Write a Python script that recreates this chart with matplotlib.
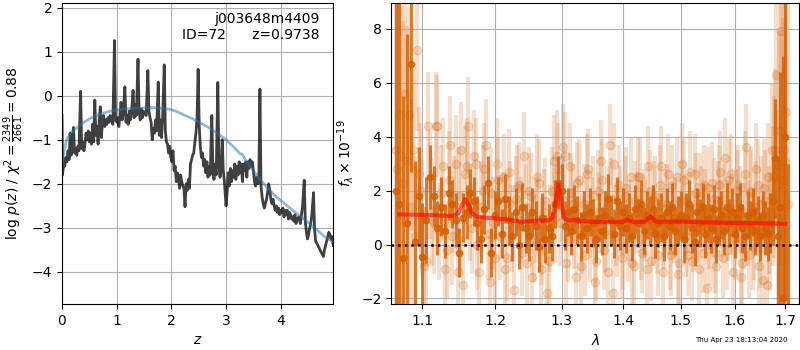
import matplotlib

matplotlib.use("Agg")
import matplotlib.pyplot as plt
from matplotlib.ticker import NullFormatter, ScalarFormatter

GRISM_COLOR = (0.8353, 0.3686, 0.0)

# redshift probability, log10 p(z)
zgrid = [
    0.00, 0.01, 0.03, 0.05, 0.07, 0.09, 0.11, 0.13, 0.15, 0.17, 0.19, 0.21, 0.23, 0.25,
    0.27, 0.29, 0.31, 0.34, 0.36, 0.38, 0.40, 0.42, 0.44, 0.46, 0.48, 0.50, 0.52, 0.54,
    0.56, 0.58, 0.60, 0.62, 0.64, 0.66, 0.68, 0.70, 0.72, 0.74, 0.76, 0.78, 0.80, 0.82,
    0.84, 0.86, 0.88, 0.90, 0.93, 0.96, 0.98, 1.00, 1.02, 1.04, 1.06, 1.08, 1.10, 1.12,
    1.15, 1.17, 1.19, 1.21, 1.23, 1.25, 1.27, 1.30, 1.32, 1.34, 1.36, 1.39, 1.41, 1.43,
    1.45, 1.47, 1.49, 1.51, 1.54, 1.57, 1.59, 1.61, 1.63, 1.65, 1.67, 1.69, 1.71, 1.73,
    1.76, 1.78, 1.80, 1.82, 1.84, 1.87, 1.89, 1.91, 1.93, 1.95, 1.97, 1.99, 2.01, 2.03,
    2.05, 2.07, 2.09, 2.11, 2.13, 2.15, 2.17, 2.19, 2.21, 2.23, 2.25, 2.27, 2.29, 2.31,
    2.33, 2.35, 2.37, 2.39, 2.41, 2.43, 2.45, 2.47, 2.49, 2.51, 2.53, 2.55, 2.57, 2.59,
    2.61, 2.63, 2.65, 2.67, 2.69, 2.71, 2.74, 2.76, 2.78, 2.80, 2.82, 2.85, 2.87, 2.89,
    2.91, 2.93, 2.95, 2.97, 3.00, 3.02, 3.04, 3.06, 3.08, 3.10, 3.12, 3.14, 3.16, 3.18,
    3.20, 3.22, 3.24, 3.26, 3.28, 3.30, 3.32, 3.34, 3.36, 3.38, 3.40, 3.42, 3.44, 3.46,
    3.48, 3.50, 3.52, 3.54, 3.56, 3.58, 3.60, 3.62, 3.64, 3.66, 3.68, 3.70, 3.72, 3.74,
    3.76, 3.78, 3.80, 3.82, 3.84, 3.86, 3.88, 3.90, 3.92, 3.94, 3.96, 3.98, 4.00, 4.02,
    4.04, 4.06, 4.08, 4.10, 4.12, 4.14, 4.16, 4.18, 4.20, 4.22, 4.24, 4.26, 4.28, 4.30,
    4.33, 4.36, 4.38, 4.40, 4.43, 4.45, 4.47, 4.49, 4.51, 4.53, 4.55, 4.57, 4.60, 4.62,
    4.64, 4.66, 4.68, 4.70, 4.72, 4.74, 4.76, 4.78, 4.80, 4.82, 4.84, 4.86, 4.88, 4.90,
    4.92, 4.94, 4.96,
]
logpz = [
    -0.45, -1.80, -1.55, -1.60, -1.40, -1.50, -1.25, -1.45, -0.85, -1.35, -1.10, -0.72, -1.30, -1.20,
    -1.35, -1.15, -1.25, 0.10, -1.20, -1.05, -1.25, -1.10, -0.85, -1.00, -0.80, -1.05, -0.85, -1.10,
    -0.65, -1.05, -0.10, -0.90, -0.70, -1.10, -0.55, -0.25, -0.95, -0.60, -0.45, -0.70, -0.55, -0.65,
    -0.50, -0.60, -0.45, -0.55, -0.65, 1.25, -0.55, -0.60, -0.50, -0.70, -0.45, -0.15, -0.55, -0.40,
    0.20, -0.60, -0.45, -0.65, -0.35, -0.55, -0.40, 0.12, -0.50, -0.20, -0.45, 0.83, -0.35, -0.55,
    -0.30, -0.50, -0.35, -0.40, -0.45, 0.57, -0.35, -0.50, -0.60, -1.00, -0.75, -0.85, -0.55, -0.80,
    0.31, -0.90, -0.55, -0.95, -0.50, 0.70, -0.80, -1.05, -1.10, -1.30, -1.15, -1.40, -1.50, -1.25,
    -1.70, -1.60, -1.95, -1.75, -1.85, -2.10, -1.80, -1.95, -2.05, -2.10, -2.52, -2.00, -2.15, -1.90,
    -2.10, -1.55, -1.45, -1.35, -1.30, -1.05, -0.85, -0.50, 0.60, -0.70, -1.15, -1.40, -1.30, -1.60,
    -1.45, -1.75, -1.50, -1.85, -1.60, -1.80, -0.45, -1.70, -1.90, -1.55, -1.80, 0.30, -1.60, -1.85,
    -1.65, -1.00, -1.70, -1.95, -2.50, -2.20, -1.75, -2.05, -1.65, -1.95, -1.70, -1.85, -1.55, -1.90,
    -1.60, -1.80, -1.50, -1.75, -1.55, -1.95, -1.55, -1.70, -1.50, -1.85, -1.50, -1.65, -1.45, -1.60,
    -1.50, -1.70, -1.95, -2.05, -1.85, -2.00, -1.95, 0.15, -2.05, -2.30, -2.45, -2.55, -2.45, -2.35,
    -2.20, -2.00, -2.15, -2.35, -2.45, -2.35, -2.50, -2.60, -2.50, -2.65, -2.55, -2.70, -2.60, -2.65,
    -2.55, -2.75, -2.60, -2.70, -2.60, -2.80, -2.65, -2.70, -2.80, -2.75, -2.85, -2.70, -2.90, -2.80,
    -2.75, -2.90, -2.70, -2.50, -1.92, -2.85, -3.10, -3.25, -3.15, -3.00, -2.90, -2.70, -2.20, -3.05,
    -3.30, -3.35, -3.40, -3.45, -3.50, -3.55, -3.60, -3.65, -3.50, -3.40, -3.30, -3.20, -3.10, -3.15,
    -3.25, -3.20, -3.40,
]

# smooth prior curve
prior_z = [
    0.00, 0.02, 0.05, 0.085, 0.15, 0.27, 0.40, 0.57, 0.72, 0.88, 1.05, 1.18, 1.40, 1.67,
    1.85, 1.98, 2.10, 2.22, 2.38, 2.53, 2.68, 2.83, 2.98, 3.13, 3.26, 3.30, 3.35, 3.45,
    3.62, 3.75, 3.87, 4.02, 4.17, 4.32, 4.48, 4.60, 4.72, 4.83, 4.93, 4.96,
]
prior_logp = [
    -1.62, -1.37, -1.18, -1.00, -0.85, -0.73, -0.60, -0.48, -0.41, -0.35, -0.32, -0.30, -0.28, -0.27,
    -0.29, -0.31, -0.36, -0.43, -0.52, -0.62, -0.72, -0.84, -0.98, -1.15, -1.32, -1.33, -1.45, -1.62,
    -1.90, -2.08, -2.24, -2.40, -2.55, -2.70, -2.85, -2.98, -3.11, -3.22, -3.30, -3.33,
]

# binned spectrum (microns, flux / 1e-19)
wave_bin = [
    1.065, 1.070, 1.075, 1.080, 1.085, 1.090, 1.095, 1.100, 1.105, 1.110, 1.115, 1.120, 1.125,
    1.130, 1.135, 1.140, 1.145, 1.150, 1.155, 1.160, 1.165, 1.170, 1.175, 1.180, 1.185, 1.190,
    1.195, 1.200, 1.205, 1.210, 1.215, 1.220, 1.225, 1.230, 1.235, 1.240, 1.245, 1.250, 1.255,
    1.260, 1.265, 1.270, 1.275, 1.280, 1.285, 1.290, 1.295, 1.300, 1.305, 1.310, 1.315, 1.320,
    1.325, 1.330, 1.335, 1.340, 1.345, 1.350, 1.355, 1.360, 1.365, 1.370, 1.375, 1.380, 1.385,
    1.390, 1.395, 1.400, 1.405, 1.410, 1.415, 1.420, 1.425, 1.430, 1.435, 1.440, 1.445, 1.450,
    1.455, 1.460, 1.465, 1.470, 1.475, 1.480, 1.485, 1.490, 1.495, 1.500, 1.505, 1.510, 1.515,
    1.520, 1.525, 1.530, 1.535, 1.540, 1.545, 1.550, 1.555, 1.560, 1.565, 1.570, 1.575, 1.580,
    1.585, 1.590, 1.595, 1.600, 1.605, 1.610, 1.615, 1.620, 1.625, 1.630, 1.635, 1.640, 1.645,
    1.650, 1.655, 1.660, 1.665, 1.670, 1.675, 1.680, 1.685, 1.690, 1.695, 1.700, 1.705,
]
flux_bin = [
    2.0, 1.5, -0.5, 0.8, 6.7, 0.1, 1.8, -0.45, 0.9, 2.5, 1.8, 0.6, 1.4,
    0.5, 1.9, 1.5, 0.9, -0.3, 1.0, 1.2, 1.9, 1.6, 0.8, 0.2, 1.3, 2.3,
    -0.3, 1.1, 1.6, 0.4, 1.7, 0.9, 0.3, 1.2, 0.0, 1.4, 0.6, 0.3, 1.2,
    0.7, -0.1, 1.0, 0.2, 0.6, 0.3, 1.5, 2.3, 2.0, 0.7, 1.2, 0.5, 1.3,
    0.9, 0.3, 1.1, 0.6, 1.2, 0.8, 0.2, 1.0, 0.5, 1.1, 1.7, 0.9, 0.4,
    1.6, 0.7, 1.2, 0.6, 1.0, 0.3, 1.3, 0.8, 1.5, 0.5, 1.1, 0.9, 1.3,
    0.4, 0.8, 1.0, 0.3, 1.2, 0.7, 1.4, 0.5, 0.9, 1.1, 0.2, 1.0, 1.5,
    0.6, 0.1, 1.2, 0.8, 1.4, 0.4, 1.0, 0.6, 1.3, 0.2, 0.9, 1.1, 0.5,
    1.4, 0.8, 1.2, 0.4, 1.0, 1.4, 0.6, 0.3, 1.1, 0.7, 1.2, 0.5, 0.9,
    0.3, 1.1, 0.6, 0.4, 0.8, 1.6, 3.2, 0.3, 1.4, -2.0, 4.0, -6.0,
]
err_bin = [
    10, 8, 6, 7, 4, 3, 1.8, 2.0, 1.6, 1.2, 1.1, 1.0, 1.1,
    1.0, 1.0, 0.9, 1.0, 0.9, 0.9, 1.0, 0.9, 0.9, 1.0, 0.9, 0.9, 1.0,
    0.9, 0.9, 0.9, 0.9, 0.9, 0.9, 0.9, 0.9, 0.9, 0.9, 0.9, 0.9, 0.9,
    0.9, 0.9, 0.9, 0.9, 0.9, 0.9, 0.9, 1.0, 1.0, 0.9, 0.9, 0.9, 0.9,
    0.9, 0.9, 0.9, 0.9, 0.9, 0.9, 0.9, 0.9, 0.9, 0.9, 0.9, 0.9, 0.9,
    0.9, 0.9, 0.9, 0.9, 0.9, 0.9, 0.9, 0.9, 0.9, 0.9, 0.9, 0.9, 0.9,
    0.9, 0.9, 0.9, 0.9, 0.9, 0.9, 0.9, 0.9, 0.9, 0.9, 0.9, 0.9, 0.9,
    0.9, 0.9, 0.9, 0.9, 0.9, 0.9, 0.9, 0.9, 0.9, 0.9, 0.9, 0.9, 0.9,
    0.9, 0.9, 0.9, 0.9, 0.9, 0.9, 0.9, 0.9, 0.9, 0.9, 0.9, 0.9, 0.9,
    0.9, 0.9, 1.0, 1.0, 1.1, 1.6, 2.2, 3.0, 5, 9, 6, 9,
]

# unbinned spectrum, first beam
wave_full = [
    1.0675, 1.0725, 1.0775, 1.0825, 1.0875, 1.0925, 1.0975, 1.1025, 1.1075, 1.1125, 1.1175,
    1.1225, 1.1275, 1.1325, 1.1375, 1.1425, 1.1475, 1.1525, 1.1575, 1.1625, 1.1675, 1.1725,
    1.1775, 1.1825, 1.1875, 1.1925, 1.1975, 1.2025, 1.2075, 1.2125, 1.2175, 1.2225, 1.2275,
    1.2325, 1.2375, 1.2425, 1.2475, 1.2525, 1.2575, 1.2625, 1.2675, 1.2725, 1.2775, 1.2825,
    1.2875, 1.2925, 1.2975, 1.3025, 1.3075, 1.3125, 1.3175, 1.3225, 1.3275, 1.3325, 1.3375,
    1.3425, 1.3475, 1.3525, 1.3575, 1.3625, 1.3675, 1.3725, 1.3775, 1.3825, 1.3875, 1.3925,
    1.3975, 1.4025, 1.4075, 1.4125, 1.4175, 1.4225, 1.4275, 1.4325, 1.4375, 1.4425, 1.4475,
    1.4525, 1.4575, 1.4625, 1.4675, 1.4725, 1.4775, 1.4825, 1.4875, 1.4925, 1.4975, 1.5025,
    1.5075, 1.5125, 1.5175, 1.5225, 1.5275, 1.5325, 1.5375, 1.5425, 1.5475, 1.5525, 1.5575,
    1.5625, 1.5675, 1.5725, 1.5775, 1.5825, 1.5875, 1.5925, 1.5975, 1.6025, 1.6075, 1.6125,
    1.6175, 1.6225, 1.6275, 1.6325, 1.6375, 1.6425, 1.6475, 1.6525, 1.6575, 1.6625, 1.6675,
    1.6725, 1.6775, 1.6825, 1.6875, 1.6925, 1.6975, 1.7025,
]
flux_full = [
    2.8, 3.3, 5.6, 4.8, 3.5, 7.2, 2.0, -0.8, 4.4, 1.2, 4.4,
    0.5, 2.9, -0.2, 3.7, 1.5, -1.0, 3.5, 2.6, 4.4, 0.6, 3.0,
    -1.0, 2.0, 3.7, -1.4, 0.8, 3.0, 0.3, 2.5, -0.5, 1.5, -1.7,
    2.1, 0.9, 3.3, -0.7, 1.8, 0.2, 2.5, -0.9, 1.2, -1.8, 0.6,
    3.1, 3.3, 0.8, 3.6, -0.7, 2.9, 1.5, -1.2, 2.4, 0.4, -0.4,
    2.8, 1.0, -1.4, 2.0, 3.1, -0.2, 1.4, 3.7, -1.8, 0.7, 2.2,
    -0.5, 1.8, 0.1, 2.5, -0.8, 1.2, 2.5, -0.3, 0.9, 2.9, -0.6,
    1.6, 0.4, 2.2, -1.0, 1.3, 2.6, -0.4, 0.8, 2.5, -0.7, 3.0,
    1.1, -0.4, 2.7, 0.5, 1.9, -0.9, 1.4, 2.2, -1.6, 0.6, 2.3,
    -0.3, 1.6, 2.7, -0.5, 3.2, 0.9, 2.6, -1.0, 1.3, 2.2, -1.2,
    0.7, 3.6, -0.4, 2.0, 0.3, 2.8, -0.8, 1.5, 2.1, -1.5, 0.9,
    3.5, 2.5, 6.3, 2.9, 7.9, 3.5, 4.9,
]
err_full = [
    8, 6, 5, 4, 3, 3, 2.5, 2.2, 2.0, 2.0, 2.0,
    1.8, 1.8, 1.8, 1.8, 1.8, 1.8, 1.8, 1.8, 1.8, 1.7, 1.7,
    1.7, 1.7, 1.7, 1.7, 1.7, 1.7, 1.6, 1.6, 1.6, 1.6, 1.6,
    1.6, 1.6, 1.6, 1.6, 1.6, 1.6, 1.6, 1.6, 1.6, 1.6, 1.6,
    1.7, 1.7, 1.6, 1.6, 1.6, 1.6, 1.5, 1.5, 1.5, 1.5, 1.5,
    1.5, 1.5, 1.5, 1.5, 1.5, 1.5, 1.5, 1.5, 1.5, 1.5, 1.5,
    1.5, 1.5, 1.5, 1.5, 1.5, 1.5, 1.5, 1.5, 1.5, 1.5, 1.5,
    1.5, 1.5, 1.5, 1.5, 1.5, 1.5, 1.5, 1.5, 1.5, 1.5, 1.5,
    1.5, 1.5, 1.5, 1.5, 1.5, 1.5, 1.5, 1.5, 1.5, 1.5, 1.5,
    1.5, 1.5, 1.5, 1.5, 1.5, 1.5, 1.5, 1.5, 1.5, 1.5, 1.5,
    1.6, 1.6, 1.6, 1.6, 1.6, 1.7, 1.7, 1.8, 1.8, 1.9, 2.0,
    2.5, 3, 4, 5, 6, 7, 8,
]

# unbinned spectrum, second beam (sampled on the binned grid)
flux_full_b = [
    3.5, 4.8, 2.3, 3.1, 1.4, 0.3, 2.6, 1.0, -0.6, 2.2, 0.8, 4.4, 1.9,
    -0.9, 2.4, 0.3, 3.0, 1.8, -1.5, 2.9, 1.2, 3.3, 0.0, 1.4, 2.8, 0.4,
    1.9, -0.5, 2.4, 1.1, -0.9, 2.7, 0.6, 1.7, 2.2, -0.3, 1.4, 2.0, -1.2,
    0.9, 2.3, 0.1, 1.6, -0.6, 2.0, 1.0, 2.8, 1.7, 3.3, 0.2, 1.9, 0.6,
    2.3, -0.8, 1.5, 2.6, 0.1, 1.8, -0.6, 1.2, 2.4, 0.5, -1.0, 1.7, 3.0,
    0.3, 1.4, -0.2, 2.1, 0.9, -0.7, 1.6, 2.5, 0.2, 1.3, -0.9, 2.0, 0.7,
    1.8, -0.4, 2.9, 0.6, 1.5, -0.2, 2.2, 1.0, -1.1, 1.6, 2.4, 0.3, 1.2,
    -0.6, 2.6, 0.8, 1.9, -0.3, 1.3, 2.1, 0.0, 1.7, -0.8, 2.2, 0.9, 1.5,
    -0.2, 2.4, 1.1, 0.2, 2.0, 1.3, -0.7, 2.6, 0.8, 1.9, -0.1, 1.4, 2.2,
    0.2, -1.3, 1.6, 2.5, 0.5, 1.8, 3.5, 1.0, 4.2, 2.4, 3.1, 1.5,
]
err_full_b = [
    9, 7, 6, 5, 4, 3, 2.5, 2.2, 2.0, 2.0, 1.9, 1.9, 1.8,
    1.8, 1.8, 1.8, 1.8, 1.8, 1.8, 1.8, 1.8, 1.7, 1.7, 1.7, 1.7, 1.7,
    1.7, 1.7, 1.6, 1.6, 1.6, 1.6, 1.6, 1.6, 1.6, 1.6, 1.6, 1.6, 1.6,
    1.6, 1.6, 1.6, 1.6, 1.6, 1.6, 1.7, 1.7, 1.6, 1.6, 1.6, 1.5, 1.5,
    1.5, 1.5, 1.5, 1.5, 1.5, 1.5, 1.5, 1.5, 1.5, 1.5, 1.5, 1.5, 1.5,
    1.5, 1.5, 1.5, 1.5, 1.5, 1.5, 1.5, 1.5, 1.5, 1.5, 1.5, 1.5, 1.5,
    1.5, 1.5, 1.5, 1.5, 1.5, 1.5, 1.5, 1.5, 1.5, 1.5, 1.5, 1.5, 1.5,
    1.5, 1.5, 1.5, 1.5, 1.5, 1.5, 1.5, 1.5, 1.5, 1.5, 1.5, 1.5, 1.5,
    1.5, 1.5, 1.5, 1.5, 1.5, 1.6, 1.6, 1.6, 1.6, 1.6, 1.6, 1.7, 1.7,
    1.8, 1.8, 1.9, 2.0, 2.2, 2.6, 3, 4, 5, 6, 8, 9,
]

# best-fit model
model_wave = [
    1.070, 1.100, 1.140, 1.148, 1.153, 1.158, 1.163, 1.168, 1.175, 1.200, 1.220, 1.240,
    1.260, 1.280, 1.286, 1.290, 1.295, 1.300, 1.304, 1.310, 1.320, 1.330, 1.350, 1.380,
    1.400, 1.406, 1.412, 1.420, 1.435, 1.441, 1.446, 1.451, 1.458, 1.500, 1.550, 1.600,
    1.650, 1.700,
]
model_flux = [
    1.12, 1.10, 1.06, 1.15, 1.45, 1.68, 1.45, 1.15, 1.02, 0.97, 0.92, 0.84,
    0.88, 0.90, 1.00, 1.50, 2.25, 1.50, 0.98, 0.90, 0.91, 0.88, 0.84, 0.83,
    0.84, 0.93, 0.86, 0.83, 0.84, 0.94, 1.04, 0.95, 0.84, 0.85, 0.82, 0.80,
    0.79, 0.77,
]

fig = plt.figure(figsize=(8, 3.5), dpi=100)
ax_z = fig.add_axes([0.0775, 0.131, 0.339, 0.860])
ax_s = fig.add_axes([0.489, 0.131, 0.510, 0.860])

# p(z) panel
ax_z.plot(zgrid, logpz, color="k", alpha=0.75, lw=2)
ax_z.plot(prior_z, prior_logp, color="#1f77b4", alpha=0.5, lw=2)
ax_z.set_xlim(0, 4.96)
ax_z.set_ylim(-4.73, 2.10)
ax_z.set_xlabel(r"$z$")
ax_z.set_ylabel(r"$\log\,p(z)$ / $\chi^2=\frac{2349}{2661}=0.88$")
ax_z.grid()
ax_z.text(0.95, 0.97, "j003648m4409\nID=72      z=0.9738", ha="right", va="top",
          transform=ax_z.transAxes, fontsize=10)

# spectrum panel
for wv, fl, er in [(wave_full, flux_full, err_full), (wave_bin, flux_full_b, err_full_b)]:
    ax_s.errorbar(wv, fl, er, color=GRISM_COLOR, alpha=0.2, marker="o", ms=6,
                  linestyle="None", elinewidth=3, zorder=1)
ax_s.errorbar(wave_bin, flux_bin, err_bin, color=GRISM_COLOR, alpha=0.8,
              marker="o", ms=4.5, linestyle="None", elinewidth=2.2, zorder=2)
ax_s.plot(model_wave, model_flux, color="r", alpha=0.6, lw=3, zorder=3)
ax_s.axhline(0, color="k", linestyle=":", lw=1.8, zorder=4)

ax_s.set_xscale("log")
ax_s.set_xlim(1.0595, 1.729)
ax_s.set_ylim(-2.21, 8.95)
ax_s.set_xticks([1.1, 1.2, 1.3, 1.4, 1.5, 1.6, 1.7])
ax_s.xaxis.set_major_formatter(ScalarFormatter())
ax_s.xaxis.set_minor_formatter(NullFormatter())
ax_s.set_xlabel(r"$\lambda$")
ax_s.set_ylabel(r"$f_\lambda \times 10^{-19}$")
ax_s.grid()

fig.text(1 - 0.015, 0.02, "Thu Apr 23 18:13:04 2020", ha="right", va="bottom", fontsize=5)

fig.savefig("out.png", dpi=100)
